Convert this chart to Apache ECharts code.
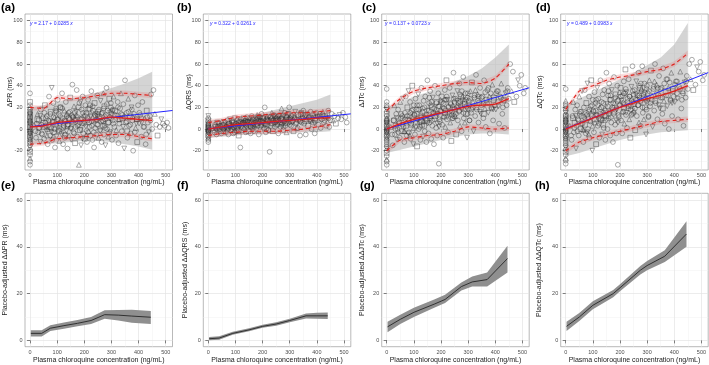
<!DOCTYPE html>
<html>
<head>
<meta charset="utf-8">
<script src="https://cdn.jsdelivr.net/npm/echarts@6/dist/echarts.min.js"></script>
<style>
  html, body { margin: 0; padding: 0; background: #fff; }
  #chart { width: 709px; height: 365px; }
</style>
</head>
<body>
<div id="chart"></div>
<script>
// plasma chloroquine concentration of each ECG sample (ng/mL), study 1
const conc = [22,25,28,30,33,35,38,40,42,45,48,50,52,55,57,60,
  62,65,67,70,72,74,76,78,80,82,84,86,88,90,92,94,96,98,100,
  102,104,106,108,110,112,114,116,118,120,122,124,126,128,130,132,134,136,138,140,142,144,146,148,150,
  152,154,156,158,160,162,164,166,168,170,172,174,176,178,180,182,184,186,188,190,192,194,196,198,200,
  202,204,206,208,210,212,214,216,218,220,222,224,226,228,230,232,234,236,238,240,242,244,246,248,250,
  252,254,256,258,260,262,264,266,268,270,272,274,276,278,280,282,284,286,288,290,292,294,296,298,300,
  302,305,308,311,314,317,320,323,326,329,332,335,338,341,344,347,350,
  353,356,359,362,365,368,371,374,377,380,383,386,389,392,395,398,
  402,406,410,414,418,422,426,430,434,438,442,446,450,
  455,460,465,470,478,484,490,496,505,510];

const dPR = [-8,5,14,-3,8,1,-12,18,4,-5,10,2,-9,22,6,-2,
  12,-14,3,30,8,-6,16,1,38,-10,6,24,-3,11,-17,4,19,-7,9,
  27,-1,14,-11,5,20,0,-5,33,10,-14,3,17,-8,7,25,-2,12,-18,4,15,-6,9,29,1,
  -10,13,41,6,-3,21,8,-13,2,16,36,-7,11,4,-33,24,-1,9,-15,18,5,30,-4,13,7,
  -9,22,2,15,-12,10,27,-2,6,19,-6,12,35,3,-10,17,8,-17,24,1,14,-5,9,31,4,
  -8,18,11,-1,26,7,-12,15,3,33,-5,21,9,-15,13,38,0,17,-7,6,28,11,-3,20,14,
  -10,8,30,2,17,-6,12,25,-13,5,19,33,-2,10,23,-18,45,
  6,15,-8,28,3,11,-4,20,8,-20,14,31,1,9,-12,22,
  5,13,-7,25,2,10,-14,17,6,-3,12,32,0,
  36,14,4,-6,2,9,5,3,6,1];

const dQRS = [-3,4,1,-5,6,2,-1,5,0,3,-4,7,1,-2,4,0,
  6,-3,2,8,1,-5,5,3,9,-1,4,0,7,2,-4,6,1,10,3,
  5,-2,8,1,4,-6,7,3,-17,9,2,5,-1,6,10,0,4,8,-3,5,11,2,7,-2,6,
  9,3,-4,7,12,5,1,8,-2,6,10,4,0,9,13,3,7,-5,5,11,2,8,14,4,6,
  10,1,7,20,5,-3,9,12,4,8,-1,6,-21,11,3,9,15,5,-2,8,12,6,2,10,7,
  4,11,8,-4,9,13,6,2,10,19,5,8,-1,12,7,15,3,9,-3,11,6,14,8,20,4,
  10,3,13,7,-2,11,16,5,9,1,12,8,-6,14,6,10,17,
  5,12,-5,9,14,3,11,7,16,0,10,6,13,-4,8,15,
  11,4,14,1,9,16,6,12,3,10,17,2,8,
  14,8,12,5,10,13,9,15,11,6];

const dJTc = [-15,8,22,-5,3,14,-10,0,18,5,-8,25,10,-2,12,28,
  2,-12,15,30,6,-6,20,9,35,-3,12,25,-9,4,17,40,8,-14,22,
  13,-5,28,3,18,-16,9,32,0,22,6,-10,15,38,4,19,-7,26,11,-2,30,14,-12,8,45,
  17,-4,24,6,35,12,-9,20,3,29,15,-14,9,40,18,1,25,-6,13,33,-32,21,7,27,16,
  30,4,19,-8,24,11,36,2,17,45,9,27,-3,21,14,38,6,23,-11,16,31,10,52,19,25,
  12,28,-5,20,35,8,24,16,42,3,22,30,-2,18,27,48,10,25,6,33,14,21,-8,29,19,
  26,8,35,15,43,20,-2,29,12,50,18,32,6,24,38,14,22,
  30,10,45,19,2,27,36,15,24,-4,33,20,41,8,29,22,
  18,35,25,5,30,42,14,27,1,33,22,38,28,
  60,35,53,25,30,45,40,50,33,38];

const dQTc = [-10,12,25,-3,6,18,-18,3,22,9,-6,30,14,0,16,35,
  5,-12,20,36,10,-4,24,13,42,0,16,30,-8,8,21,45,12,-20,27,
  17,-3,34,6,24,-14,13,38,3,28,10,-8,20,45,8,25,-5,32,15,1,36,19,-10,12,52,
  23,0,31,10,42,17,-6,27,6,36,20,-12,14,48,24,4,32,-4,18,40,-33,27,11,34,22,
  38,8,26,-4,31,16,44,5,23,55,13,34,1,28,19,46,9,30,-8,21,39,14,58,25,32,
  17,36,-1,27,44,12,31,22,52,6,29,38,3,24,35,58,15,32,9,42,20,28,-5,37,26,
  33,12,45,21,54,27,2,37,17,60,24,41,9,31,49,19,29,
  38,14,56,26,5,35,46,21,31,0,43,27,52,12,37,30,
  25,44,33,9,39,53,19,35,3,43,29,49,37,
  60,46,64,36,41,57,53,62,45,50];

// study 2 samples
const conc2 = [15,20,27,32,37,43,47,53,58,63,
  68,71,75,79,83,87,91,95,99,103,
  107,111,115,119,123,127,131,135,139,143,
  147,151,155,159,163,167,171,175,179,183,
  187,191,195,199,203,207,211,215,219,223,
  227,231,235,239,243,247,251,255,259,263,
  267,271,275,279,283,287,291,295,299,303,
  307,312,318,324,330,336,343,349,356,363,
  370,378,386,394,403,412,421,432,444,
  58,85,112,138,165,193,221,249,277,305,
  66,97,128,157,186,214,242,270,298,327,
  340,358,375,392,410,428];

const dPR2 = [4,-2,9,1,12,-4,6,15,3,-6,
  8,2,14,-3,7,11,0,17,5,9,
  -2,12,6,19,1,8,-5,14,4,10,
  16,0,7,11,-4,9,13,3,20,6,
  -1,10,15,5,12,-6,8,18,2,11,
  7,21,-3,13,9,4,16,10,-2,14,
  8,19,3,12,23,6,-4,15,10,17,
  5,13,-1,20,9,14,2,11,7,16,
  4,12,-3,9,15,6,2,11,8,
  10,-7,20,3,15,-9,22,13,1,18,
  0,16,-6,11,25,-3,12,7,24,9,
  13,-2,18,5,10,-5];

const dQRS2 = [1,-1,2,0,3,-2,2,4,1,3,
  2,0,5,1,3,6,2,4,-1,5,
  3,6,2,7,4,1,5,8,3,6,
  4,7,2,6,9,5,3,8,6,10,
  5,8,3,7,10,6,4,9,7,11,
  8,5,10,7,12,6,9,4,11,8,
  6,10,13,8,5,11,9,14,7,10,
  12,8,11,6,13,9,15,10,7,12,
  11,8,14,10,12,9,13,11,10,
  0,4,-2,7,3,10,-1,8,2,6,
  4,-3,6,2,11,0,13,4,9,1,
  7,13,9,5,12,8];

const dJTc2 = [2,-5,8,0,10,-3,6,14,4,-2,
  9,3,12,-4,8,15,5,11,1,13,
  6,14,9,18,2,11,16,7,20,10,
  13,5,17,10,22,8,15,19,12,24,
  14,21,9,17,25,12,19,15,27,11,
  20,16,24,13,22,28,18,14,26,21,
  17,25,20,30,15,23,27,19,33,22,
  28,18,25,31,20,26,16,29,23,34,
  24,30,19,27,33,21,29,26,35,
  10,-6,22,3,25,2,30,12,35,8,
  -2,18,7,29,5,27,10,32,14,36,
  30,14,38,18,35,20];

const dQTc2 = [3,-6,10,1,12,-2,8,16,5,0,
  11,4,15,-3,10,18,7,14,3,16,
  9,17,12,22,5,14,20,10,24,13,
  17,8,21,14,27,11,19,24,16,29,
  18,26,13,22,30,16,24,20,33,15,
  25,21,30,18,28,35,23,19,32,27,
  22,31,26,37,20,29,34,25,40,28,
  35,24,31,39,26,33,22,37,29,42,
  31,38,26,35,41,28,37,33,44,
  12,-5,27,4,31,6,37,15,42,11,
  -1,22,9,35,8,33,13,40,18,44,
  38,19,46,24,44,27];

// samples with no measurable chloroquine (conc = 0)
const zeroPR = [-33,-30,-27,-24,-21,-19,-17,-15,-13,-12,-10,-9,-8,-7,-6,-5,-4,-3,-2,-1,0,1,2,3,4,5,6,7,8,9,10,11,12,13,14,15,16,18,20,22,25,33];
const zeroQRS = [-12,-10,-8,-7,-6,-5,-4,-3,-2,-1.5,-1,-0.5,0,0.5,1,1.5,2,3,4,5,6,7,8,10,12];
const zeroJTc = [-33,-30,-28,-25,-22,-20,-18,-16,-14,-12,-10,-8,-7,-6,-5,-4,-3,-2,-1,0,1,2,3,4,5,6,7,8,9,10,12,14,16,18,20,22,25,37];
const zeroQTc = [-32,-29,-27,-24,-21,-19,-17,-15,-13,-11,-9,-8,-7,-6,-5,-4,-3,-2,-1,0,1,2,3,4,5,6,7,8,9,10,11,12,13,15,17,19,21,23,26,37];

// binned observed median / 5th / 95th percentiles and model prediction interval
const binConc = [0,50,100,150,200,250,300,350,400,450];
const medPR = [2,3,6,7,8,9,11,10,9,8];
const p95PR = [20,19,29,28,29,31,33,33,32,31];
const p05PR = [-14,-13,-9,-8,-7,-6,-5,-5,-7,-9];
const piLoPR = [-14,-14,-13,-12,-11,-11,-12,-14,-16,-19];
const piHiPR = [20,22,25,28,31,34,38,42,47,53];

const medQRS = [0,2,4,5,6,7,8,9,10,10.5];
const p95QRS = [6,8,11,12,13,14,15,15,16,17];
const p05QRS = [-6,-4,-3,-2,-2,-2,-1,0,2,4];
const piLoQRS = [-8,-7,-6,-5,-5,-4,-4,-3,-3,-2];
const piHiQRS = [8,9,11,13,15,18,21,24,27,32];

const medJTc = [0,5,9,12,15,18,21,22,23,28];
const p95JTc = [17,28,35,38,40,42,43,42,47,60];
const p05JTc = [-20,-10,-8,-6,-5,-2,2,1,0,1];
const piLoJTc = [-22,-19,-16,-13,-10,-7,-5,-4,-4,-5];
const piHiJTc = [20,25,30,34,39,44,49,56,66,78];

const medQTc = [0,5,10,15,20,24,28,31,35,40];
const p95QTc = [18,35,40,45,48,50,53,55,60,70];
const p05QTc = [-20,-12,-8,-5,-2,1,4,7,8,9];
const piLoQTc = [-25,-22,-18,-14,-10,-7,-5,-3,-2,-1];
const piHiQTc = [22,28,34,40,46,52,59,66,78,98];

// linear fits [intercept, slope]
const fitPR = [2.17, 0.0285];
const fitQRS = [0.322, 0.0261];
const fitJTc = [0.137, 0.0723];
const fitQTc = [0.489, 0.0983];

// placebo-adjusted double-delta predictions (mean and 90% CI)
const ddxPR = [3,43,75,125,175,225,275,325,375,445];
const ddPR = [3,3,5.2,6.3,7.3,8.5,11,10.8,10.4,9.9];
const ddLoPR = [1.7,1.7,4,5,6,7,9.3,8.5,7.5,7];
const ddHiPR = [4.3,4.3,6.5,7.6,8.7,10,12.9,13,13.1,12.6];

const ddxQRS = [3,40,90,150,200,250,300,360,400,440];
const ddQRS = [0.7,1,3,4.5,6,7,8.5,10.5,10.5,10.5];
const ddLoQRS = [0.1,0.3,2.4,3.9,5.4,6.3,7.8,9.4,9.2,9.1];
const ddHiQRS = [1.4,1.8,3.7,5.2,6.7,7.8,9.3,11.5,11.8,11.9];

const ddxJTc = [3,50,100,175,215,275,315,370,445];
const ddJTc = [5.8,9,12,15.5,17.5,23,25,26,35];
const ddLoJTc = [3.5,7,10,14,16,21.3,23,23,29];
const ddHiJTc = [8,11,14,17.5,19.5,24.8,27.3,29,40.5];

const ddxQTc = [3,50,100,175,200,275,300,365,445];
const ddQTc = [6,10,15,20,22.5,30,32,36,45.5];
const ddLoQTc = [4,8.3,13.3,18.5,21,28.2,30,33.5,40];
const ddHiQTc = [8,11.7,16.7,21.5,24,31.8,34,38.5,51];

const xTicks = [0,100,200,300,400,500];
const xMinor = [50,150,250,350,450];
const yTicksTop = [-20,0,20,40,60,80,100];
const yMinorTop = [-30,-10,10,30,50,70,90];
const yTicksBot = [0,20,40,60];
const yMinorBot = [10,30,50];

const FONT = '"Liberation Sans", Arial, sans-serif';
const lefts = [25, 203.3, 381.7, 560.7];
const W = 147.5;

const topPanels = [
  { letter: '(a)', ytitle: 'ΔPR (ms)', ys: dPR, ys2: dPR2, zero: zeroPR, med: medPR, hi: p95PR, lo: p05PR, piLo: piLoPR, piHi: piHiPR, fit: fitPR, eq: ['2.17', '0.0285'], tx: 10, lx: 1, ex: 30 },
  { letter: '(b)', ytitle: 'ΔQRS (ms)', ys: dQRS, ys2: dQRS2, zero: zeroQRS, med: medQRS, hi: p95QRS, lo: p05QRS, piLo: piLoQRS, piHi: piHiQRS, fit: fitQRS, eq: ['0.322', '0.0261'], tx: 189, lx: 177, ex: 210 },
  { letter: '(c)', ytitle: 'ΔJTc (ms)', ys: dJTc, ys2: dJTc2, zero: zeroJTc, med: medJTc, hi: p95JTc, lo: p05JTc, piLo: piLoJTc, piHi: piHiJTc, fit: fitJTc, eq: ['0.137', '0.0723'], tx: 362.5, lx: 362, ex: 385 },
  { letter: '(d)', ytitle: 'ΔQTc (ms)', ys: dQTc, ys2: dQTc2, zero: zeroQTc, med: medQTc, hi: p95QTc, lo: p05QTc, piLo: piLoQTc, piHi: piHiQTc, fit: fitQTc, eq: ['0.489', '0.0983'], tx: 540, lx: 536, ex: 567 }
];
const bottomPanels = [
  { letter: '(e)', ytitle: 'Placebo-adjusted ΔΔPR (ms)', xs: ddxPR, m: ddPR, lo: ddLoPR, hi: ddHiPR, tx: 5.5, lx: 1 },
  { letter: '(f)', ytitle: 'Placebo-adjusted ΔΔQRS (ms)', xs: ddxQRS, m: ddQRS, lo: ddLoQRS, hi: ddHiQRS, tx: 185, lx: 177 },
  { letter: '(g)', ytitle: 'Placebo-adjusted ΔΔJTc (ms)', xs: ddxJTc, m: ddJTc, lo: ddLoJTc, hi: ddHiJTc, tx: 362, lx: 360 },
  { letter: '(h)', ytitle: 'Placebo-adjusted ΔΔQTc (ms)', xs: ddxQTc, m: ddQTc, lo: ddLoQTc, hi: ddHiQTc, tx: 539.5, lx: 535 }
];

const grids = [], xAxes = [], yAxes = [], series = [], graphics = [];

function axisPair(i, yMin, yMax, yTicks) {
  xAxes.push({
    type: 'value', gridIndex: i, min: -18.5, max: 525,
    axisLine: { show: false }, splitLine: { show: false },
    axisTick: { show: true, customValues: xTicks, length: 3, lineStyle: { color: '#333', width: 0.6 } },
    axisLabel: { customValues: xTicks, fontSize: 5.5, color: '#4d4d4d', margin: 2.5, fontFamily: FONT }
  });
  yAxes.push({
    type: 'value', gridIndex: i, min: yMin, max: yMax,
    axisLine: { show: false }, splitLine: { show: false },
    axisTick: { show: true, customValues: yTicks, length: 3, lineStyle: { color: '#333', width: 0.6 } },
    axisLabel: { customValues: yTicks, fontSize: 5.5, color: '#4d4d4d', margin: 2.5, fontFamily: FONT }
  });
}

function gridLines(i, yTicks, yMinor) {
  const major = { color: '#e4e4e4', width: 0.7, type: 'solid' };
  const minor = { color: '#f1f1f1', width: 0.5, type: 'solid' };
  const data = []
    .concat(xMinor.map(v => ({ xAxis: v, lineStyle: minor })))
    .concat(yMinor.map(v => ({ yAxis: v, lineStyle: minor })))
    .concat(xTicks.map(v => ({ xAxis: v, lineStyle: major })))
    .concat(yTicks.map(v => ({ yAxis: v, lineStyle: major })));
  series.push({
    type: 'scatter', xAxisIndex: i, yAxisIndex: i, data: [[0, 0]], symbolSize: 0, z: 0, silent: true,
    markLine: { z: 0, silent: true, symbol: ['none', 'none'], label: { show: false }, animation: false, data }
  });
}

// filled ribbon between lo and hi, drawn as one polygon through the axis scales
function band(i, xs, lo, hi, color, z) {
  series.push({
    type: 'custom', xAxisIndex: i, yAxisIndex: i, silent: true, z,
    data: xs.map((x, k) => [x, lo[k], hi[k]]),
    renderItem: (params, api) => {
      if (params.dataIndex !== 0) return null;
      const upper = xs.map((x, k) => api.coord([x, hi[k]]));
      const lower = xs.map((x, k) => api.coord([x, lo[k]])).reverse();
      return { type: 'polygon', shape: { points: upper.concat(lower) }, style: { fill: color }, silent: true };
    }
  });
}

function line(i, xs, ys, color, width, type, z, smooth) {
  series.push({
    type: 'line', xAxisIndex: i, yAxisIndex: i, smooth, symbol: 'none', silent: true, z,
    data: xs.map((x, k) => [x, ys[k]]), lineStyle: { color, width, type }
  });
}

const shapes = ['circle', 'circle', 'triangle', 'circle', 'rect', 'circle', 'path://M0,0L10,0L5,9Z', 'circle', 'circle'];
const PINK = 'rgba(235,90,90,0.2)';

topPanels.forEach((p, i) => {
  grids.push({ left: lefts[i], top: 14, width: W, height: 156, show: true, backgroundColor: '#fff', borderColor: '#8a8a8a', borderWidth: 0.6 });
  axisPair(i, -37.8, 106.2, yTicksTop);
  gridLines(i, yTicksTop, yMinorTop);
  band(i, binConc, p.piLo, p.piHi, 'rgba(185,185,185,0.62)', 1);
  const pts = conc.map((x, k) => [x, p.ys[k]])
    .concat(conc2.map((x, k) => [x, p.ys2[k]]))
    .concat(p.zero.map(v => [0, v]));
  series.push({
    type: 'scatter', xAxisIndex: i, yAxisIndex: i, data: pts, silent: true, z: 2,
    symbol: (v, prm) => shapes[prm.dataIndex % shapes.length], symbolSize: 4.8,
    itemStyle: { color: 'rgba(0,0,0,0)', borderColor: 'rgba(45,45,45,0.75)', borderWidth: 0.65 }
  });
  [p.lo, p.med, p.hi].forEach(arr => band(i, binConc, arr.map(v => v - 2.5), arr.map(v => v + 2.5), PINK, 3));
  line(i, [0, 525], [p.fit[0], p.fit[0] + p.fit[1] * 525], '#2424ff', 1, 'solid', 4, false);
  line(i, binConc, p.med, '#e0201b', 1.3, 'solid', 5, 0.2);
  line(i, binConc, p.hi, '#e0201b', 1.1, [4, 3], 5, 0.2);
  line(i, binConc, p.lo, '#e0201b', 1.1, [4, 3], 5, 0.2);

  const cx = lefts[i] + W / 2;
  graphics.push({ type: 'text', z: 100, x: p.lx, y: 7.5, style: { text: p.letter, font: 'bold 11.5px ' + FONT, fill: '#000', textVerticalAlign: 'middle' } });
  graphics.push({ type: 'text', z: 100, x: cx, y: 182, style: { text: 'Plasma chloroquine concentration (ng/mL)', font: '7px ' + FONT, fill: '#1a1a1a', textAlign: 'center', textVerticalAlign: 'middle' } });
  graphics.push({ type: 'text', z: 100, x: p.tx, y: 92, rotation: Math.PI / 2, style: { text: p.ytitle, font: '7px ' + FONT, fill: '#1a1a1a', textAlign: 'center', textVerticalAlign: 'middle' } });
  graphics.push({ type: 'text', z: 100, x: p.ex, y: 24, style: {
    text: '{i|y} = ' + p.eq[0] + ' + ' + p.eq[1] + ' {i|x}', font: '5px ' + FONT, fill: '#2424ff', textVerticalAlign: 'middle',
    rich: { i: { fontStyle: 'italic', fontSize: 5, fill: '#2424ff', fontFamily: FONT } } } });
});

bottomPanels.forEach((p, j) => {
  const i = j + 4;
  grids.push({ left: lefts[j], top: 193.3, width: W, height: 153.4, show: true, backgroundColor: '#fff', borderColor: '#8a8a8a', borderWidth: 0.6 });
  axisPair(i, -2.7, 62.9, yTicksBot);
  gridLines(i, yTicksBot, yMinorBot);
  band(i, p.xs, p.lo, p.hi, '#8f8f8f', 2);
  line(i, p.xs, p.m, '#262626', 0.9, 'solid', 3, false);

  const cx = lefts[j] + W / 2;
  graphics.push({ type: 'text', z: 100, x: p.lx, y: 185.5, style: { text: p.letter, font: 'bold 11.5px ' + FONT, fill: '#000', textVerticalAlign: 'middle' } });
  graphics.push({ type: 'text', z: 100, x: cx, y: 360, style: { text: 'Plasma chloroquine concentration (ng/mL)', font: '7px ' + FONT, fill: '#1a1a1a', textAlign: 'center', textVerticalAlign: 'middle' } });
  graphics.push({ type: 'text', z: 100, x: p.tx, y: 270, rotation: Math.PI / 2, style: { text: p.ytitle, font: '7px ' + FONT, fill: '#1a1a1a', textAlign: 'center', textVerticalAlign: 'middle' } });
});

const chart = echarts.init(document.getElementById('chart'), null, { renderer: 'canvas' });
chart.setOption({
  animation: false,
  backgroundColor: '#fff',
  grid: grids,
  xAxis: xAxes,
  yAxis: yAxes,
  series,
  graphic: graphics
});
</script>
</body>
</html>
